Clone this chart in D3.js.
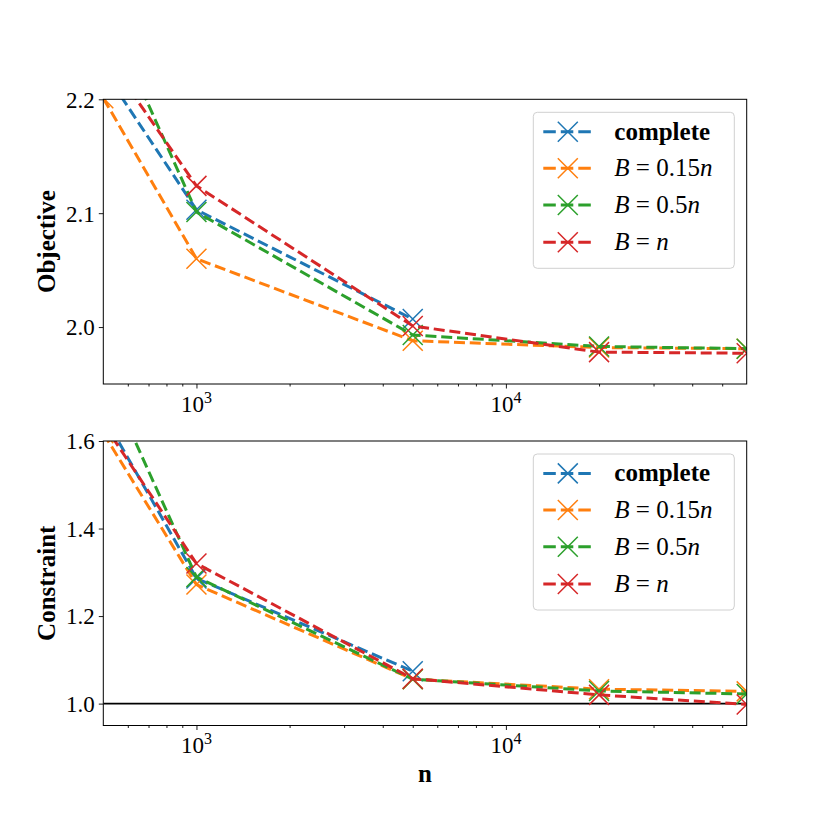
<!DOCTYPE html>
<html>
<head>
<meta charset="utf-8">
<script src="https://cdn.jsdelivr.net/npm/d3@7"></script>
<style>
  body { margin: 0; background: #fff; }
  text { font-family: "Liberation Serif", "DejaVu Serif", serif; fill: #000; }
</style>
</head>
<body>
<div id="chart"></div>
<script>
/* Data */
const N_VALUES = [500, 1000, 5000, 20000, 60000];
const SERIES_NAMES = ['complete', 'B015', 'B05', 'Bn'];
const SERIES_COLORS = ['#1f77b4', '#ff7f0e', '#2ca02c', '#d62728'];

// objective (top panel); "complete" only up to n = 5000
const OBJ_COMPLETE = [2.226, 2.103, 2.007];
const OBJ_B015 = [2.201, 2.060, 1.988, 1.982, 1.981];
const OBJ_B05 = [2.284, 2.101, 1.993, 1.983, 1.981];
const OBJ_BN = [2.242, 2.124, 2.001, 1.978, 1.977];

// constraint (bottom panel)
const CON_COMPLETE = [1.660, 1.286, 1.074];
const CON_B015 = [1.618, 1.272, 1.056, 1.033, 1.028];
const CON_B05 = [1.760, 1.289, 1.056, 1.029, 1.022];
const CON_BN = [1.640, 1.320, 1.057, 1.020, 0.998];

const X_MAJOR = [1000, 10000];
const X_MINOR = [600, 700, 800, 900, 2000, 3000, 4000, 5000, 6000, 7000, 8000, 9000,
                 20000, 30000, 40000, 50000];
const OBJ_TICKS = [2.0, 2.1, 2.2];
const CON_TICKS = [1.0, 1.2, 1.4, 1.6];

/* Dimensions */
const WIDTH = 830, HEIGHT = 830;
const LEFT = 103.3, RIGHT = 746.7;

const svg = d3.select('#chart').append('svg')
    .attr('width', WIDTH)
    .attr('height', HEIGHT);

const x = d3.scaleLog().domain([500, 60000]).range([LEFT, RIGHT]);

function drawPanel(opt) {
    const y = d3.scaleLinear().domain(opt.yDomain).range([opt.bottom, opt.top]);
    const g = svg.append('g');
    const clipId = 'clip-' + opt.id;

    g.append('clipPath').attr('id', clipId)
      .append('rect')
        .attr('x', LEFT).attr('y', opt.top)
        .attr('width', RIGHT - LEFT).attr('height', opt.bottom - opt.top);

    const plot = g.append('g').attr('clip-path', `url(#${clipId})`);

    if (opt.hline !== undefined) {
        plot.append('line')
            .attr('x1', LEFT).attr('x2', RIGHT)
            .attr('y1', y(opt.hline)).attr('y2', y(opt.hline))
            .attr('stroke', '#000').attr('stroke-width', 1.6);
    }

    const line = d3.line().x(d => x(d[0])).y(d => y(d[1]));

    opt.series.forEach((vals, i) => {
        const pts = vals.map((v, j) => [N_VALUES[j], v]);
        plot.append('path')
            .datum(pts)
            .attr('d', line)
            .attr('fill', 'none')
            .attr('stroke', SERIES_COLORS[i])
            .attr('stroke-width', 3)
            .attr('stroke-dasharray', '11,4.8');
        plot.selectAll('.m' + i).data(pts).enter().append('path')
            .attr('transform', d => `translate(${x(d[0])},${y(d[1])})`)
            .attr('d', 'M-10,-10L10,10M-10,10L10,-10')
            .attr('stroke', SERIES_COLORS[i])
            .attr('stroke-width', 1.5);
    });

    // spines
    g.append('rect')
        .attr('x', LEFT).attr('y', opt.top)
        .attr('width', RIGHT - LEFT).attr('height', opt.bottom - opt.top)
        .attr('fill', 'none').attr('stroke', '#000').attr('stroke-width', 1);

    // x axis
    const xMajor = g.append('g').attr('transform', `translate(0,${opt.bottom})`)
        .call(d3.axisBottom(x).tickValues(X_MAJOR).tickSize(4.5).tickFormat(''));
    const xMinor = g.append('g').attr('transform', `translate(0,${opt.bottom})`)
        .call(d3.axisBottom(x).tickValues(X_MINOR).tickSize(2.5).tickFormat(''));
    [xMajor, xMinor].forEach(a => {
        a.select('.domain').remove();
        a.selectAll('line').attr('stroke', '#000').attr('stroke-width', 0.9);
    });
    X_MAJOR.forEach(v => {
        const t = g.append('text')
            .attr('x', x(v)).attr('y', opt.bottom + 27.5)
            .attr('text-anchor', 'middle')
            .style('font-size', '23px');
        t.append('tspan').text('10');
        t.append('tspan').attr('dy', -9).style('font-size', '16px')
            .text(Math.round(Math.log10(v)));
    });

    // y axis
    const yAxis = g.append('g').attr('transform', `translate(${LEFT},0)`)
        .call(d3.axisLeft(y).tickValues(opt.yTicks).tickSize(4.5).tickPadding(4)
            .tickFormat(d3.format('.1f')));
    yAxis.select('.domain').remove();
    yAxis.selectAll('line').attr('stroke', '#000').attr('stroke-width', 0.9);
    yAxis.selectAll('text')
        .attr('dy', '0.34em')
        .style('font-size', '23px')
        .style('font-family', '"Liberation Serif", serif');

    // y label
    g.append('text')
        .attr('transform', `translate(55,${(opt.top + opt.bottom) / 2}) rotate(-90)`)
        .attr('text-anchor', 'middle')
        .style('font-size', '25px')
        .style('font-weight', 'bold')
        .text(opt.label);

    // legend
    const lx = 533.3, ly = opt.top + 13;
    const legend = g.append('g');
    legend.append('rect')
        .attr('x', lx).attr('y', ly)
        .attr('width', 201).attr('height', 156)
        .attr('rx', 4)
        .attr('fill', '#fff').attr('fill-opacity', 0.8)
        .attr('stroke', '#d0d0d0').attr('stroke-width', 1);
    const rowY = [19.4, 56, 92.7, 130];
    SERIES_NAMES.forEach((name, i) => {
        const cy = ly + rowY[i];
        legend.append('line')
            .attr('x1', lx + 10).attr('x2', lx + 59.5)
            .attr('y1', cy).attr('y2', cy)
            .attr('stroke', SERIES_COLORS[i]).attr('stroke-width', 3)
            .attr('stroke-dasharray', '12.5,5');
        legend.append('path')
            .attr('transform', `translate(${lx + 34.5},${cy})`)
            .attr('d', 'M-10,-10L10,10M-10,10L10,-10')
            .attr('stroke', SERIES_COLORS[i]).attr('stroke-width', 1.5);
        const t = legend.append('text')
            .attr('x', lx + 81).attr('y', cy + 8)
            .style('font-size', '25px');
        if (name === 'complete') {
            t.style('font-weight', 'bold').text('complete');
        } else {
            t.append('tspan').style('font-style', 'italic').text('B');
            const rhs = name === 'B015' ? '0.15' : name === 'B05' ? '0.5' : '';
            t.append('tspan').text(' = ' + rhs);
            t.append('tspan').style('font-style', 'italic').text('n');
        }
    });

    return g;
}

drawPanel({
    id: 'obj', top: 99.3, bottom: 384, yDomain: [1.95, 2.2],
    yTicks: OBJ_TICKS, label: 'Objective',
    series: [OBJ_COMPLETE, OBJ_B015, OBJ_B05, OBJ_BN]
});

drawPanel({
    id: 'con', top: 441, bottom: 725.5, yDomain: [0.95, 1.6],
    yTicks: CON_TICKS, label: 'Constraint', hline: 1.0,
    series: [CON_COMPLETE, CON_B015, CON_B05, CON_BN]
});

svg.append('text')
    .attr('x', (LEFT + RIGHT) / 2).attr('y', 782)
    .attr('text-anchor', 'middle')
    .style('font-size', '25px')
    .style('font-weight', 'bold')
    .text('n');
</script>
</body>
</html>
